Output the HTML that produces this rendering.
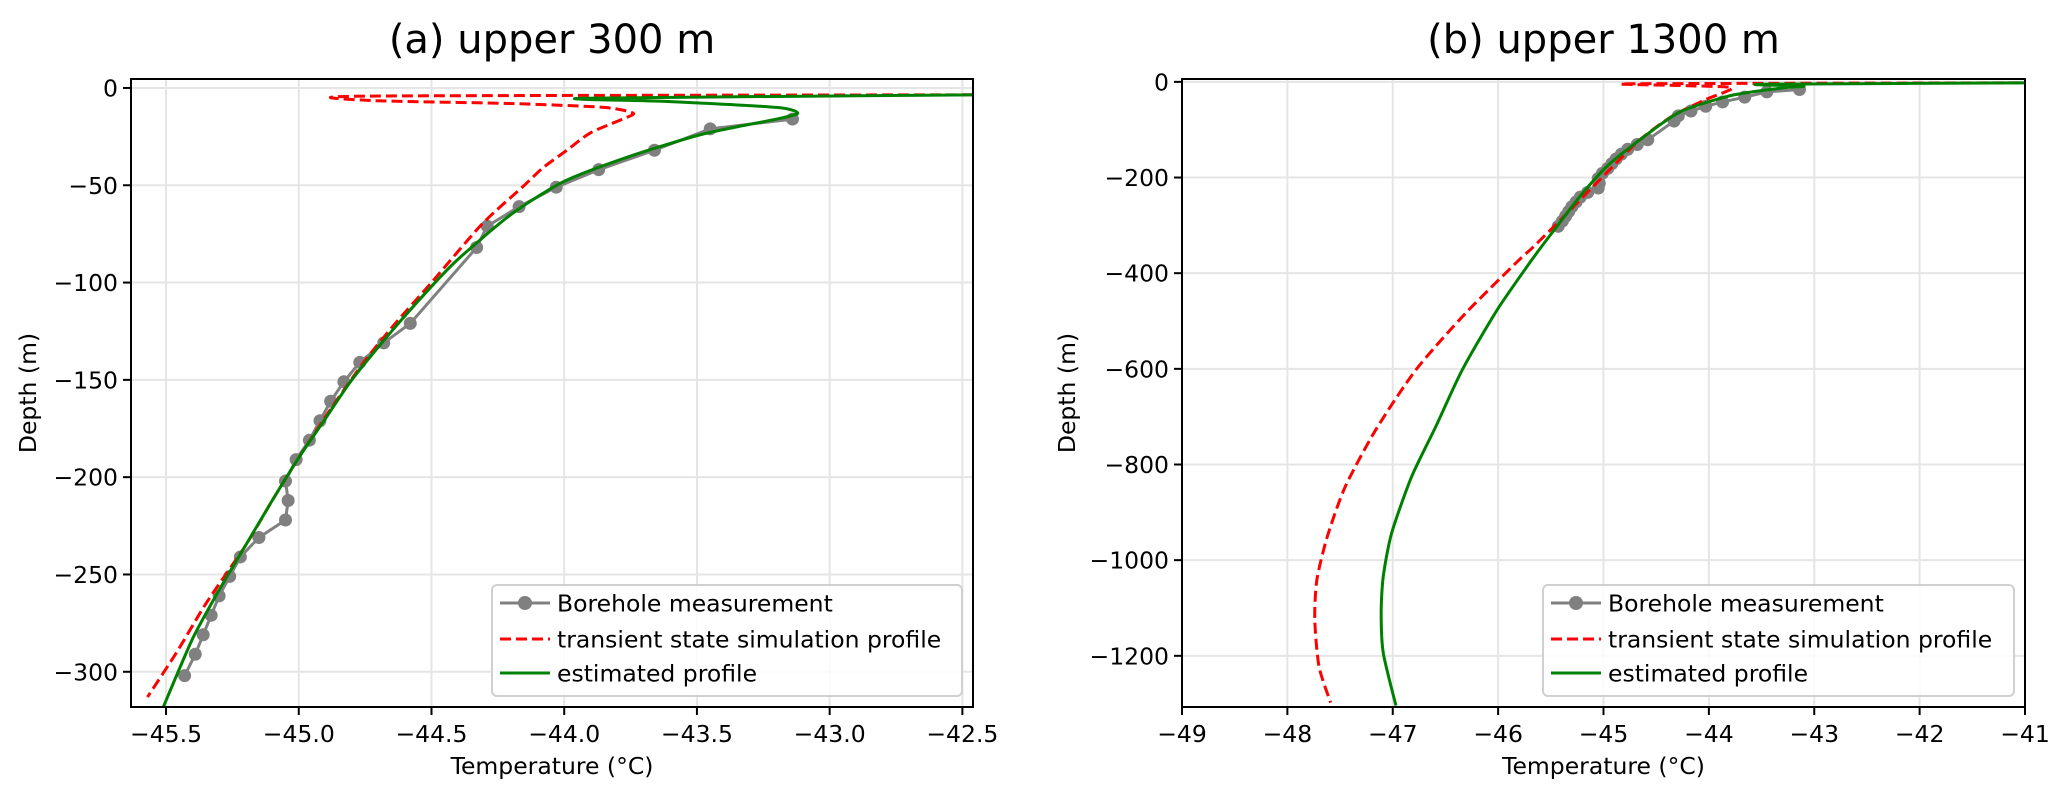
<!DOCTYPE html>
<html><head><meta charset="utf-8"><style>
body{margin:0;background:#fff;}
svg{display:block;font-family:"DejaVu Sans","Liberation Sans",sans-serif;}
</style></head><body>
<svg id="fig" width="2067" height="797" viewBox="0 0 2067 797" xmlns="http://www.w3.org/2000/svg"></svg>
<script>
// ---------- data ----------
const boreT = [-43.14,-43.45,-43.66,-43.87,-44.03,-44.17,-44.29,-44.33,-44.58,-44.68,-44.77,-44.83,-44.88,-44.92,-44.96,-45.01,-45.05,-45.04,-45.05,-45.15,-45.22,-45.26,-45.30,-45.33,-45.36,-45.39,-45.43];
const boreD = [-16,-21,-32,-42,-51,-61,-71,-82,-121,-131,-141,-151,-161,-171,-181,-191,-202,-212,-222,-231,-241,-251,-261,-271,-281,-291,-302];
const simT_a = [-42.4,-44.75,-44.72,-44.2,-43.85,-43.74,-43.78,-43.9,-43.99,-44.08,-44.15,-44.31,-44.5,-44.63,-44.75,-44.88,-45.0,-45.1,-45.2,-45.35,-45.46,-45.57];
const simD_a = [-3.5,-4.2,-6.5,-8,-10,-13,-16,-23,-32,-41,-50,-70,-100,-120,-140,-165,-190,-212,-235,-265,-290,-313];
const estT_a = [-42.4,-43.93,-43.6,-43.2,-43.12,-43.2,-43.35,-43.5,-43.75,-44.0,-44.2,-44.4,-44.5,-44.65,-44.8,-44.9,-45.0,-45.1,-45.2,-45.3,-45.4,-45.51];
const estD_a = [-3.5,-5.3,-7,-10,-13,-16,-20,-24.5,-35,-48,-65,-88,-102,-125,-150,-170,-190,-212,-235,-258,-283,-318];
const simT_b = [-40.9,-44.73,-44.2,-43.78,-44.03,-44.35,-44.67,-45.05,-45.36,-45.68,-45.80,-46.31,-46.78,-47.16,-47.45,-47.62,-47.72,-47.74,-47.70,-47.59];
const simD_b = [-2,-4,-8,-12.6,-37,-72,-124,-208,-278,-348,-372,-484,-602,-727,-846,-950,-1041,-1124,-1222,-1298];
const estT_b = [-40.9,-43.5,-43.1,-43.3,-43.78,-44.26,-44.57,-44.95,-45.21,-45.49,-45.68,-46.01,-46.34,-46.59,-46.82,-47.01,-47.09,-47.11,-47.09,-46.97];
const estD_b = [-2,-5,-9,-12.6,-28,-61.5,-107,-173,-236,-316,-372,-477,-602,-720,-825,-943,-1034,-1110,-1194,-1304];
const xTicksA = [-45.5,-45.0,-44.5,-44.0,-43.5,-43.0,-42.5];
const yTicksA = [0,-50,-100,-150,-200,-250,-300];
const xTicksB = [-49,-48,-47,-46,-45,-44,-43,-42,-41];
const yTicksB = [0,-200,-400,-600,-800,-1000,-1200];

const NS="http://www.w3.org/2000/svg";
const fig=document.getElementById('fig');
function mk(tag,attrs,parent){const e=document.createElementNS(NS,tag);for(const k in attrs)e.setAttribute(k,attrs[k]);(parent||fig).appendChild(e);return e;}
function smooth(pts){
  let d='M'+pts[0][0]+','+pts[0][1];
  for(let i=0;i<pts.length-1;i++){
    const p0=pts[Math.max(i-1,0)],p1=pts[i],p2=pts[i+1],p3=pts[Math.min(i+2,pts.length-1)];
    const t=0.12;
    d+=' C'+(p1[0]+(p2[0]-p0[0])*t)+','+(p1[1]+(p2[1]-p0[1])*t)+' '+(p2[0]-(p3[0]-p1[0])*t)+','+(p2[1]-(p3[1]-p1[1])*t)+' '+p2[0]+','+p2[1];
  }
  return d;
}
function panel(cfg){
  const g=mk('g',{});
  
  
  const X=v=>cfg.L+(v-cfg.x0)/(cfg.x1-cfg.x0)*(cfg.R-cfg.L);
  const Y=v=>cfg.T+(cfg.y1-v)/(cfg.y1-cfg.y0)*(cfg.B-cfg.T);
  const clipId='clip'+cfg.name;
  const cp=mk('clipPath',{id:clipId},g);
  mk('rect',{x:cfg.L,y:cfg.T,width:cfg.R-cfg.L,height:cfg.B-cfg.T},cp);
  cfg.xt.forEach(v=>{const l=mk('line',{x1:X(v),x2:X(v),y1:cfg.T,y2:cfg.B,stroke:'#e5e5e5','stroke-width':2},g);
    });
  cfg.yt.forEach(v=>{const l=mk('line',{x1:cfg.L,x2:cfg.R,y1:Y(v),y2:Y(v),stroke:'#e5e5e5','stroke-width':2},g);
    });
  const pg=mk('g',{'clip-path':'url(#'+clipId+')'},g);
  const bp=boreT.map((t,i)=>X(t)+','+Y(boreD[i])).join(' ');
  const bl=mk('polyline',{points:bp,fill:'none',stroke:'#808080','stroke-width':3},pg);
  
  boreT.forEach((t,i)=>{const c=mk('circle',{cx:X(t),cy:Y(boreD[i]),r:cfg.r,fill:'#808080'},pg);
    });
  const sp=mk('path',{d:smooth(cfg.simT.map((t,i)=>[X(t),Y(cfg.simD[i])])),fill:'none',stroke:'#ff0000','stroke-width':3,'stroke-dasharray':'11,5'},pg);
  
  const ep=mk('path',{d:smooth(cfg.estT.map((t,i)=>[X(t),Y(cfg.estD[i])])),fill:'none',stroke:'#008000','stroke-width':3},pg);
  
  const fr=mk('rect',{x:cfg.L,y:cfg.T,width:cfg.R-cfg.L,height:cfg.B-cfg.T,fill:'none',stroke:'#000','stroke-width':2},g);
  
  cfg.xt.forEach(v=>{mk('line',{x1:X(v),x2:X(v),y1:cfg.B,y2:cfg.B+8,stroke:'#000','stroke-width':2},g);
    const t=mk('text',{x:X(v),y:cfg.B+35,'text-anchor':'middle','font-size':23.5},g);
    t.textContent=(cfg.xdec?v.toFixed(1):String(v)).replace('-','\u2212');
    });
  cfg.yt.forEach(v=>{mk('line',{x1:cfg.L-8,x2:cfg.L,y1:Y(v),y2:Y(v),stroke:'#000','stroke-width':2},g);
    const t=mk('text',{x:cfg.L-13,y:Y(v)+8.5,'text-anchor':'end','font-size':23.5},g);
    t.textContent=String(v).replace('-','\u2212');
    });
  const cx=(cfg.L+cfg.R)/2;
  const xl=mk('text',{x:cx,y:774,'text-anchor':'middle','font-size':23.5},g);xl.textContent='Temperature (°C)';
  
  const yl=mk('text',{x:0,y:0,'text-anchor':'middle','font-size':23.5,transform:'translate('+cfg.ylx+','+((cfg.T+cfg.B)/2)+') rotate(-90)'},g);yl.textContent='Depth (m)';
  
  const ti=mk('text',{x:cx,y:53,'text-anchor':'middle','font-size':40},g);ti.textContent=cfg.title;
  
  const lg=mk('g',{},g);
  mk('rect',{x:cfg.lgL,y:585,width:cfg.lgR-cfg.lgL,height:111,rx:5,fill:'#fff','fill-opacity':0.85,stroke:'#d0d0d0','stroke-width':2},lg);
  const hx=cfg.lgL+8, tx=cfg.lgL+75;
  const rows=[['Borehole measurement',603],['transient state simulation profile',639],['estimated profile',673]];
  mk('line',{x1:hx,x2:hx+50,y1:603,y2:603,stroke:'#808080','stroke-width':3},lg);
  mk('circle',{cx:hx+25,cy:603,r:7,fill:'#808080'},lg);
  mk('line',{x1:hx,x2:hx+50,y1:639,y2:639,stroke:'#ff0000','stroke-width':3,'stroke-dasharray':'11,5'},lg);
  mk('line',{x1:hx,x2:hx+50,y1:673,y2:673,stroke:'#008000','stroke-width':3},lg);
  rows.forEach(r=>{const t=mk('text',{x:tx-10,y:r[1]+8.5,'font-size':23.5},lg);t.textContent=r[0];
    });
}
panel({name:'panel-a',L:131,R:973,T:79,B:707,x0:-45.632,x1:-42.46,y0:-318.1,y1:4.6,xt:xTicksA,yt:yTicksA,xdec:true,
  simT:simT_a,simD:simD_a,estT:estT_a,estD:estD_a,r:6.5,title:'(a) upper 300 m',ylx:36,lgL:492,lgR:962});
panel({name:'panel-b',L:1182,R:2025,T:79,B:707,x0:-49,x1:-41,y0:-1307,y1:6,xt:xTicksB,yt:yTicksB,xdec:false,
  simT:simT_b,simD:simD_b,estT:estT_b,estD:estD_b,r:6.5,title:'(b) upper 1300 m',ylx:1075,lgL:1543,lgR:2014});
</script>
</body></html>
